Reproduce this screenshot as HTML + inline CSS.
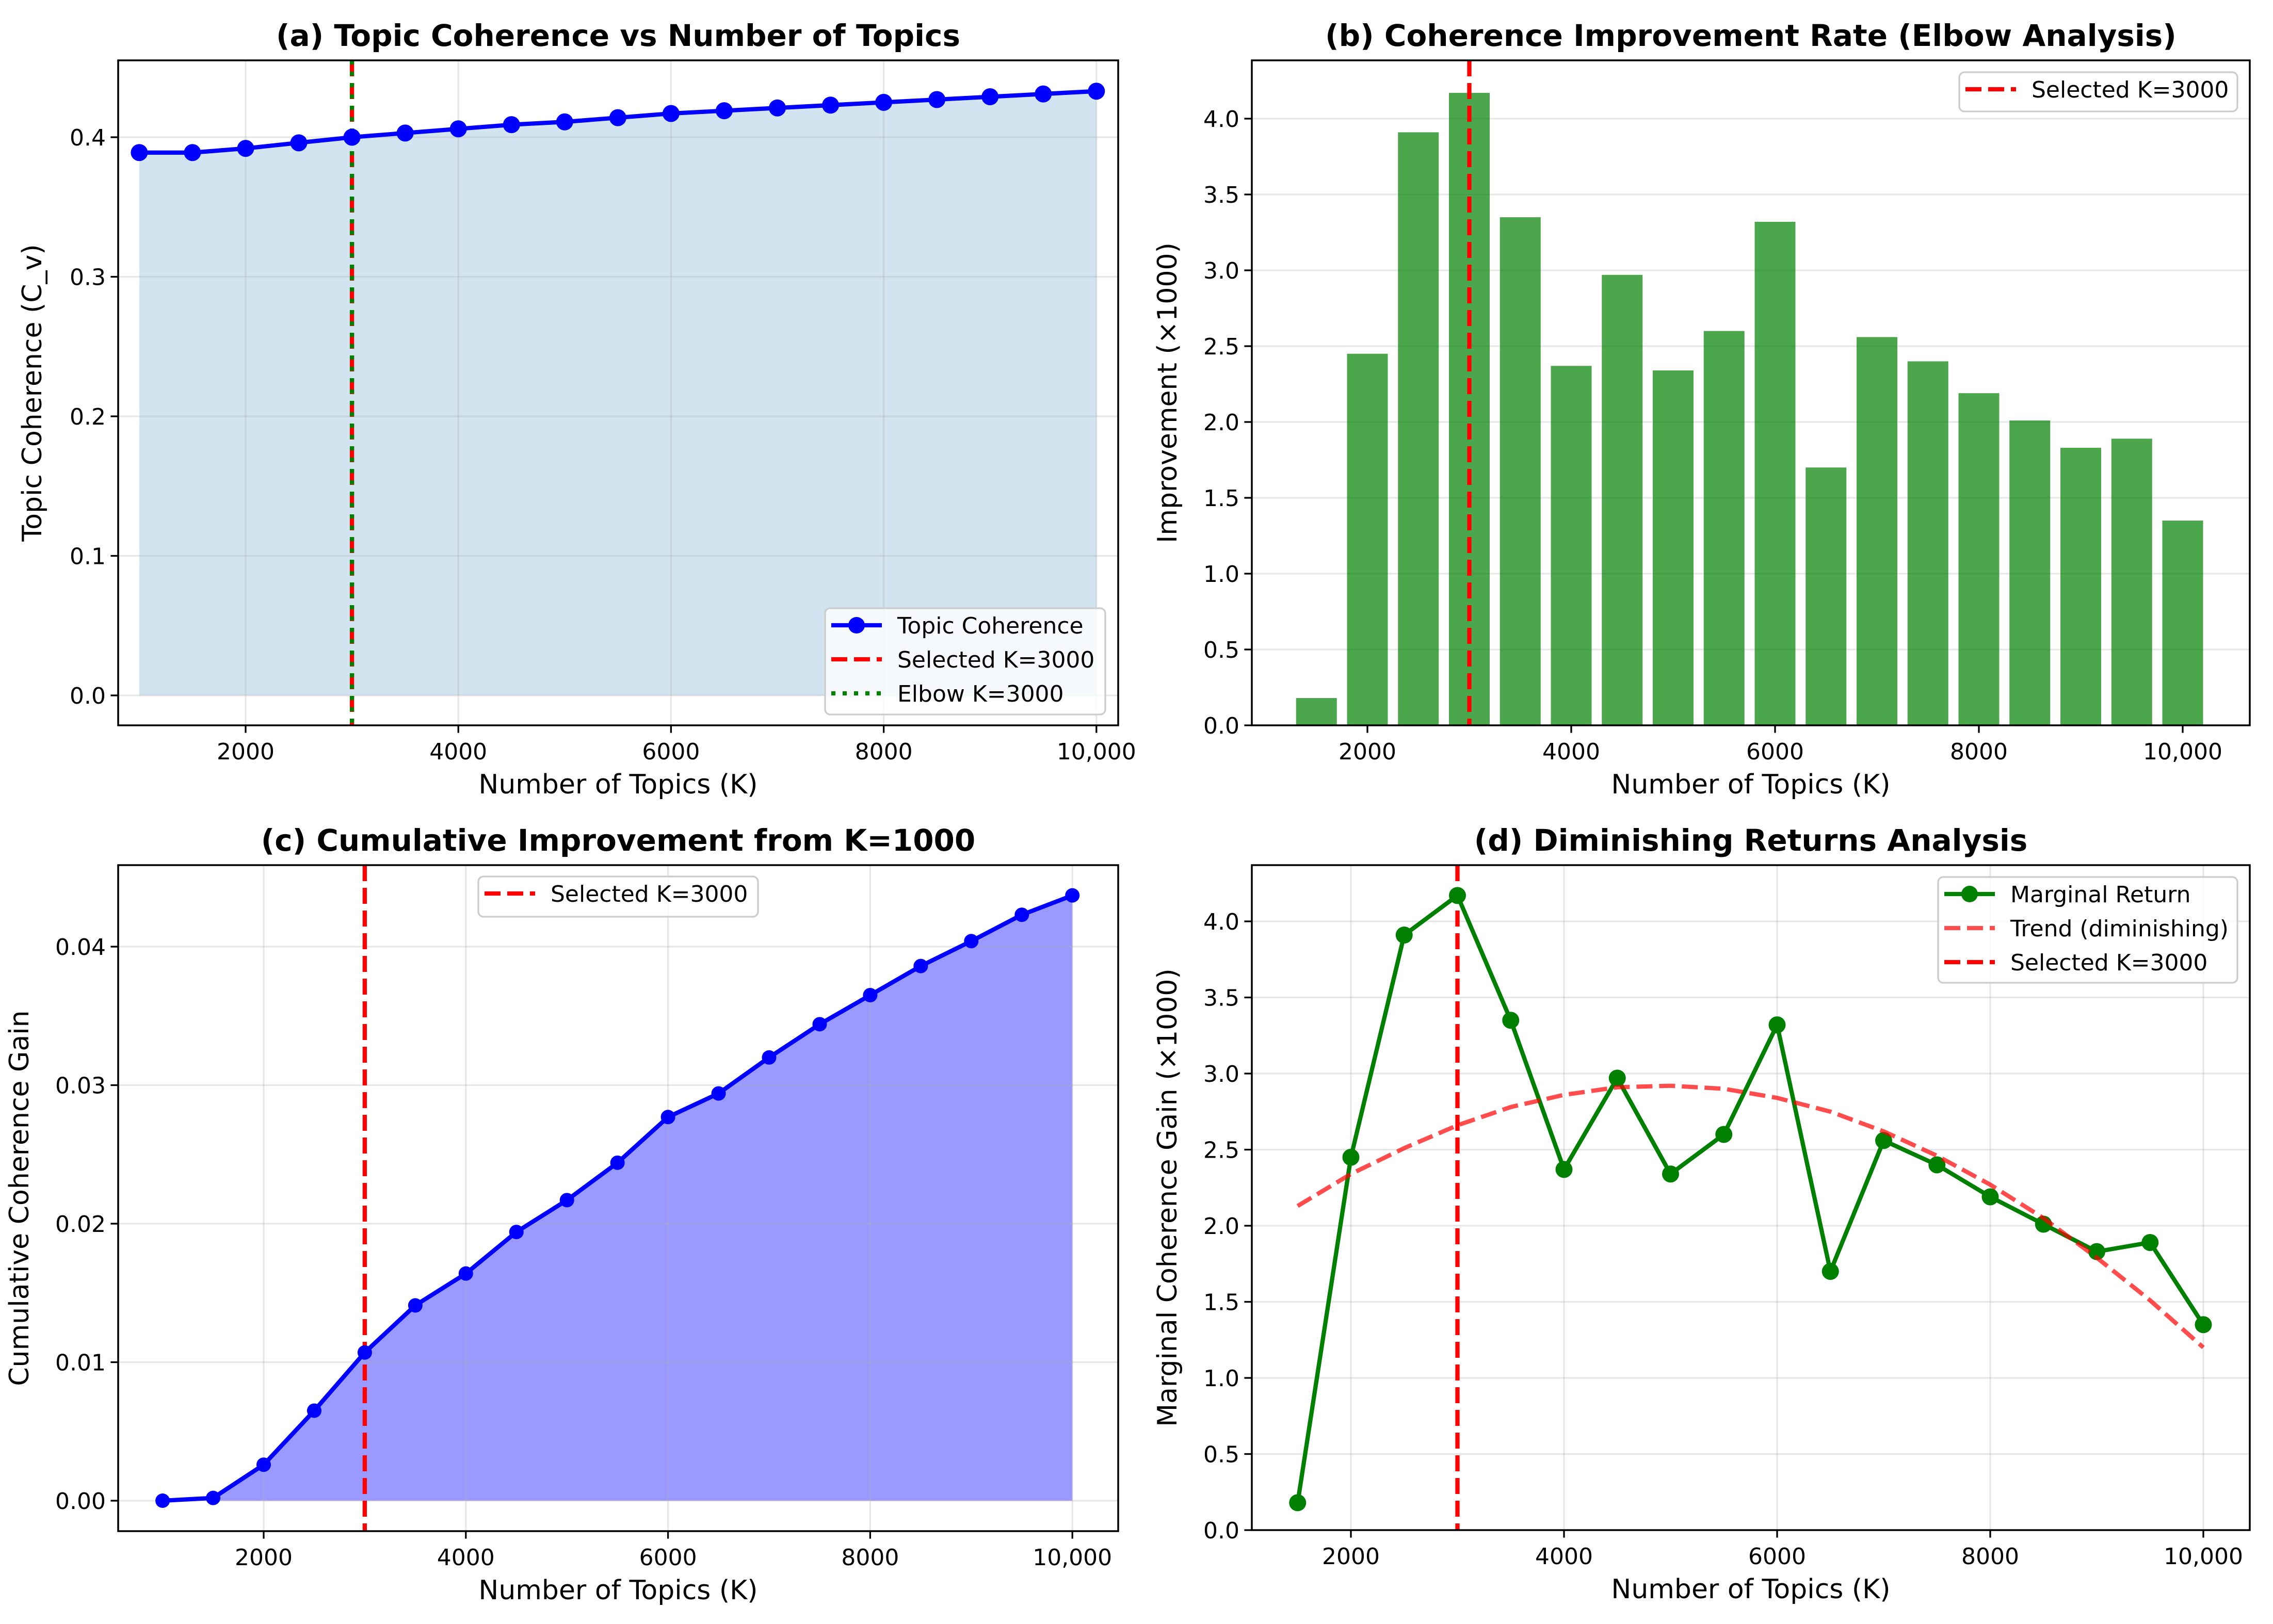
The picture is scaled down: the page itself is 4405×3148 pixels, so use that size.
<!DOCTYPE html>
<html><head><meta charset="utf-8"><style>
html,body{margin:0;padding:0;background:#fff;}
svg{display:block;}
text{font-family:"DejaVu Sans","Liberation Sans",sans-serif;}
</style></head>
<body>
<svg id="fig" xmlns="http://www.w3.org/2000/svg" width="4405" height="3148" viewBox="0 0 4405 3148"></svg>
<script>
const kValues = [1000,1500,2000,2500,3000,3500,4000,4500,5000,5500,6000,6500,7000,7500,8000,8500,9000,9500,10000];
const coherence = [0.389,0.389,0.392,0.396,0.400,0.403,0.406,0.409,0.411,0.414,0.417,0.419,0.421,0.423,0.425,0.427,0.429,0.431,0.433];
const marginalK = [1500,2000,2500,3000,3500,4000,4500,5000,5500,6000,6500,7000,7500,8000,8500,9000,9500,10000];
const marginal = [0.18,2.45,3.91,4.17,3.35,2.37,2.97,2.34,2.60,3.32,1.70,2.56,2.40,2.19,2.01,1.83,1.89,1.35];
const cumulative = [0,0.0002,0.0026,0.0065,0.0107,0.0141,0.0164,0.0194,0.0217,0.0244,0.0277,0.0294,0.0320,0.0344,0.0365,0.0386,0.0404,0.0423,0.0437];
const trendK = [1500,2000,2500,3000,3500,4000,4500,5000,5500,6000,6500,7000,7500,8000,8500,9000,9500,10000];
const trendVals = [2.13,2.34,2.51,2.66,2.78,2.86,2.91,2.92,2.90,2.84,2.75,2.62,2.46,2.27,2.05,1.79,1.51,1.20];
const selectedK = 3000;
const elbowK = 3000;
const xTickVals = [2000,4000,6000,8000,10000];
const xTickLabels = ["2000","4000","6000","8000","10,000"];
const yTicksA = [0,0.1,0.2,0.3,0.4];
const yTicksB = [0,0.5,1,1.5,2,2.5,3,3.5,4];
const yTicksC = [0,0.01,0.02,0.03,0.04];

const NS="http://www.w3.org/2000/svg";
const fig=document.getElementById('fig');
function el(tag,attrs,parent,txt){const e=document.createElementNS(NS,tag);for(const k in attrs)e.setAttribute(k,attrs[k]);if(txt!==undefined)e.textContent=txt;(parent||fig).appendChild(e);return e;}

function makeAxes(p){
  const g=el('g',{});
  
  
  p.g=g;
  return p;
}
function grid(p,xg){
  if(xg){xTickVals.forEach(v=>{const l=el('line',{x1:p.sx(v),x2:p.sx(v),y1:p.top,y2:p.bottom,stroke:'#b0b0b0','stroke-opacity':0.3,'stroke-width':3.3},p.g);});}
  p.yt.forEach(v=>{const l=el('line',{x1:p.left,x2:p.right,y1:p.sy(v),y2:p.sy(v),stroke:'#b0b0b0','stroke-opacity':0.3,'stroke-width':3.3},p.g);});
}
function frame(p){
  const r=el('rect',{x:p.left,y:p.top,width:p.right-p.left,height:p.bottom-p.top,fill:'none',stroke:'#000','stroke-width':3.5},p.g);
  
  xTickVals.forEach((v,i)=>{
    const x=p.sx(v);
    el('line',{x1:x,x2:x,y1:p.bottom,y2:p.bottom+14.6,stroke:'#000','stroke-width':3.3},p.g);
    const t=el('text',{x:x,y:p.bottom+66,'font-size':44,'text-anchor':'middle'},p.g,xTickLabels[i]);
    
  });
  p.yt.forEach(v=>{
    const y=p.sy(v);
    el('line',{x1:p.left-14.6,x2:p.left,y1:y,y2:y,stroke:'#000','stroke-width':3.3},p.g);
    const t=el('text',{x:p.left-24,y:y+16,'font-size':44,'text-anchor':'end'},p.g,v.toFixed(p.dec));
    
  });
  const tt=el('text',{x:(p.left+p.right)/2,y:p.top-28,'font-size':58,'font-weight':'bold','text-anchor':'middle'},p.g,p.title);
  
  const xl=el('text',{x:(p.left+p.right)/2,y:p.bottom+132,'font-size':52,'text-anchor':'middle'},p.g,'Number of Topics (K)');
  
  const yx=p.ylx, yy=(p.top+p.bottom)/2;
  const yl=el('text',{x:yx,y:yy,'font-size':52,'text-anchor':'middle',transform:`rotate(-90 ${yx} ${yy})`},p.g,p.ylabel);
  
}
function vline(p,v,color,dash,name){
  const l=el('line',{x1:p.sx(v),x2:p.sx(v),y1:p.top,y2:p.bottom,stroke:color,'stroke-width':8.3,'stroke-dasharray':dash},p.g);
  
}
function linePts(p,xs,ys){return xs.map((x,i)=>p.sx(x).toFixed(1)+','+p.sy(ys[i]).toFixed(1)).join(' ');}
function legend(p,box,items){
  const lg=el('g',{},p.g);
  
  el('rect',{x:box[0],y:box[1],width:box[2],height:box[3],rx:10,fill:'#fff','fill-opacity':0.8,stroke:'#cccccc','stroke-width':3.3},lg);
  items.forEach((it,i)=>{
    const y=box[1]+33+i*66;
    const hx=box[0]+12;
    const e=el('g',{},lg);
    
    el('line',{x1:hx,x2:hx+98,y1:y,y2:y,stroke:it.c,'stroke-width':8.3,'stroke-dasharray':it.d||'none','stroke-opacity':it.o||1},e);
    if(it.m)el('circle',{cx:hx+49,cy:y,r:16,fill:it.c},e);
    el('text',{x:box[0]+140,y:y+16,'font-size':44},e,it.t);
  });
}

// Panel A
const A=makeAxes({name:'panel-a-topic-coherence',left:229,right:2167,top:117,bottom:1406,yt:yTicksA,dec:1,
  sx:v=>476+(v-2000)*0.2061, sy:v=>1348-v*2705, title:'(a) Topic Coherence vs Number of Topics', ylabel:'Topic Coherence (C_v)', ylx:80});
{
  const pts=linePts(A,kValues,coherence);
  const f=el('polygon',{points:`${A.sx(kValues[0])},${A.sy(0)} ${pts} ${A.sx(kValues[kValues.length-1])},${A.sy(0)}`,fill:'#1f77b4','fill-opacity':0.2},A.g);
  
  grid(A,true);
  vline(A,selectedK,'#ff0000','31,13','selected-k-line');
  vline(A,elbowK,'#008000','8,14','elbow-k-line');
  const l=el('polyline',{points:pts,fill:'none',stroke:'#0000ff','stroke-width':8.3,'stroke-linejoin':'round'},A.g);
  
  kValues.forEach((k,i)=>{const c=el('circle',{cx:A.sx(k),cy:A.sy(coherence[i]),r:16.5,fill:'#0000ff'},A.g);});
  frame(A);
  legend(A,[1599,1179,543,206],[{c:'#0000ff',m:true,t:'Topic Coherence'},{c:'#ff0000',d:'31,13',t:'Selected K=3000'},{c:'#008000',d:'8,14',t:'Elbow K=3000'}]);
}
// Panel B
const B=makeAxes({name:'panel-b-improvement-rate',left:2426,right:4360,top:117,bottom:1406,yt:yTicksB,dec:1,
  sx:v=>2650+(v-2000)*0.1975, sy:v=>1406-v*294, title:'(b) Coherence Improvement Rate (Elbow Analysis)', ylabel:'Improvement (×1000)', ylx:2280});
{
  grid(B,false);
  marginalK.forEach((k,i)=>{
    const x0=B.sx(k-200), x1=B.sx(k+200);
    const r=el('rect',{x:x0,y:B.sy(marginal[i]),width:x1-x0,height:B.sy(0)-B.sy(marginal[i]),fill:'#008000','fill-opacity':0.7},B.g);
    
  });
  vline(B,selectedK,'#ff0000','31,13','selected-k-line');
  frame(B);
  legend(B,[3797,140,539,76],[{c:'#ff0000',d:'31,13',t:'Selected K=3000'}]);
}
// Panel C
const C=makeAxes({name:'panel-c-cumulative-improvement',left:229,right:2167,top:1677,bottom:2968,yt:yTicksC,dec:2,
  sx:v=>511+(v-2000)*0.1959, sy:v=>2909-v*26850, title:'(c) Cumulative Improvement from K=1000', ylabel:'Cumulative Coherence Gain', ylx:55});
{
  const pts=linePts(C,kValues,cumulative);
  const f=el('polygon',{points:`${C.sx(kValues[0])},${C.sy(0)} ${pts} ${C.sx(kValues[kValues.length-1])},${C.sy(0)}`,fill:'#0000ff','fill-opacity':0.4},C.g);
  
  grid(C,true);
  vline(C,selectedK,'#ff0000','31,13','selected-k-line');
  const l=el('polyline',{points:pts,fill:'none',stroke:'#0000ff','stroke-width':8.3,'stroke-linejoin':'round'},C.g);
  
  kValues.forEach((k,i)=>{const c=el('circle',{cx:C.sx(k),cy:C.sy(cumulative[i]),r:14,fill:'#0000ff'},C.g);});
  frame(C);
  legend(C,[927,1699,542,78],[{c:'#ff0000',d:'31,13',t:'Selected K=3000'}]);
}
// Panel D
const D=makeAxes({name:'panel-d-diminishing-returns',left:2426,right:4360,top:1677,bottom:2966,yt:yTicksB,dec:1,
  sx:v=>2618+(v-2000)*0.2065, sy:v=>2966-v*295, title:'(d) Diminishing Returns Analysis', ylabel:'Marginal Coherence Gain (×1000)', ylx:2280});
{
  grid(D,true);
  vline(D,selectedK,'#ff0000','31,13','selected-k-line');
  const l=el('polyline',{points:linePts(D,marginalK,marginal),fill:'none',stroke:'#008000','stroke-width':8.3,'stroke-linejoin':'round'},D.g);
  
  marginalK.forEach((k,i)=>{const c=el('circle',{cx:D.sx(k),cy:D.sy(marginal[i]),r:16.5,fill:'#008000'},D.g);});
  const t=el('polyline',{points:linePts(D,trendK,trendVals),fill:'none',stroke:'#ff0000','stroke-opacity':0.7,'stroke-width':8.3,'stroke-dasharray':'31,13'},D.g);
  
  frame(D);
  legend(D,[3756,1700,580,205],[{c:'#008000',m:true,t:'Marginal Return'},{c:'#ff0000',d:'31,13',o:0.7,t:'Trend (diminishing)'},{c:'#ff0000',d:'31,13',t:'Selected K=3000'}]);
}
</script>
</body></html>
